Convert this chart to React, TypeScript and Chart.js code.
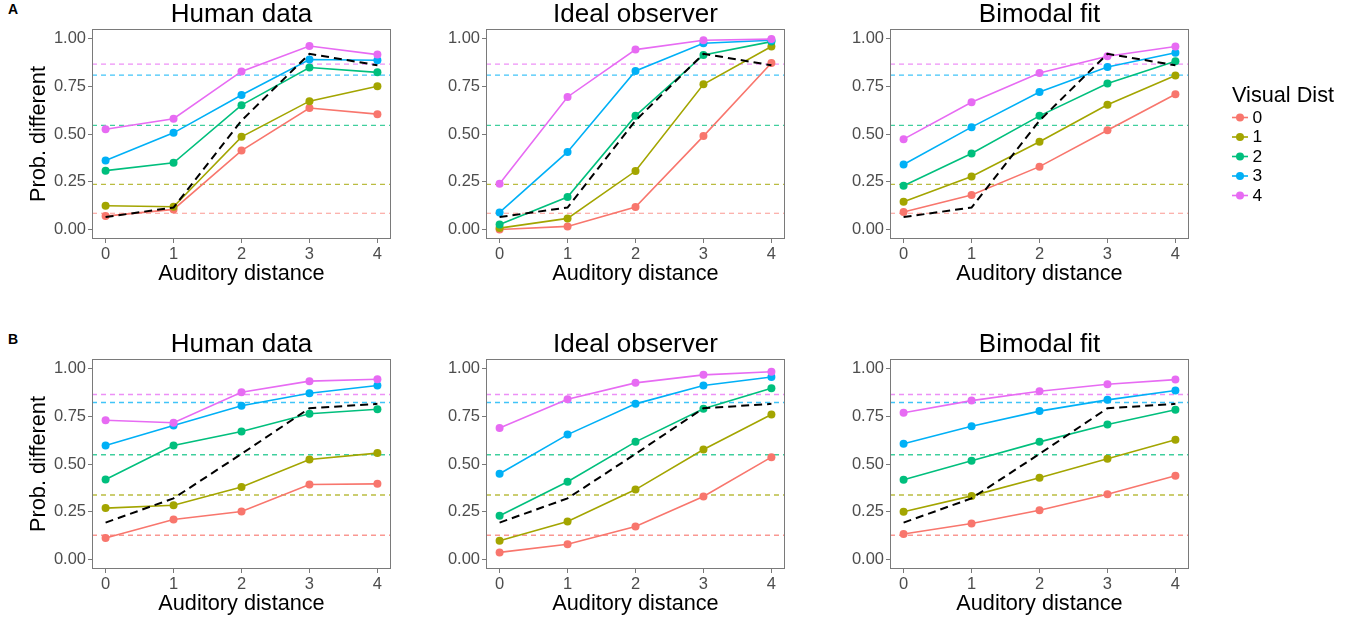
import React, { useEffect, useRef } from 'react';
import { Chart, registerables } from 'chart.js';

Chart.register(...registerables);

// ---------- data ----------
const auditoryDistance = [0, 1, 2, 3, 4];
const visualDist = ['0', '1', '2', '3', '4'];
const yTickValues = [0, 0.25, 0.5, 0.75, 1];
const panelTitles = ['Human data', 'Ideal observer', 'Bimodal fit'];
const rowLabels = ['A', 'B'];
const legendTitle = 'Visual Dist';
const xAxisTitle = 'Auditory distance';
const yAxisTitle = 'Prob. different';

// Row A (rows = visual distance 0..4, columns = auditory distance 0..4)
const humanA = [
  [0.07, 0.105, 0.413, 0.636, 0.604],
  [0.124, 0.119, 0.485, 0.672, 0.75],
  [0.308, 0.349, 0.651, 0.848, 0.823],
  [0.361, 0.506, 0.704, 0.89, 0.886],
  [0.525, 0.58, 0.828, 0.961, 0.916],
];
const idealA = [
  [0.0, 0.016, 0.117, 0.489, 0.872],
  [0.007, 0.058, 0.306, 0.76, 0.958],
  [0.026, 0.17, 0.595, 0.914, 0.984],
  [0.089, 0.406, 0.83, 0.975, 0.991],
  [0.24, 0.694, 0.942, 0.991, 0.997],
];
const bimodalA = [
  [0.091, 0.18, 0.329, 0.52, 0.708],
  [0.145, 0.277, 0.459, 0.653, 0.807],
  [0.229, 0.398, 0.595, 0.765, 0.881],
  [0.34, 0.536, 0.72, 0.851, 0.926],
  [0.473, 0.666, 0.82, 0.907, 0.958],
];
const auditoryOnlyA = [0.065, 0.115, 0.57, 0.92, 0.86];
const visualOnlyA = [0.085, 0.236, 0.545, 0.808, 0.866];

// Row B
const humanB = [
  [0.112, 0.209, 0.251, 0.393, 0.396],
  [0.269, 0.284, 0.38, 0.524, 0.557],
  [0.419, 0.597, 0.67, 0.763, 0.787],
  [0.597, 0.702, 0.805, 0.871, 0.911],
  [0.729, 0.716, 0.876, 0.934, 0.944],
];
const idealB = [
  [0.037, 0.08, 0.173, 0.33, 0.536],
  [0.098, 0.199, 0.366, 0.576, 0.759],
  [0.229, 0.407, 0.616, 0.789, 0.897],
  [0.449, 0.654, 0.815, 0.911, 0.956],
  [0.689, 0.839, 0.925, 0.967, 0.983],
];
const bimodalB = [
  [0.133, 0.188, 0.258, 0.342, 0.438],
  [0.25, 0.333, 0.428, 0.527, 0.627],
  [0.417, 0.517, 0.616, 0.707, 0.784],
  [0.606, 0.698, 0.777, 0.836, 0.885],
  [0.768, 0.832, 0.881, 0.918, 0.942],
];
const auditoryOnlyB = [0.193, 0.32, 0.553, 0.792, 0.815];
const visualOnlyB = [0.127, 0.338, 0.548, 0.822, 0.864];

// ---------- styles ----------
const seriesColors = ['#F8766D', '#A3A500', '#00BF7D', '#00B0F6', '#E76BF3'];
const baselineColors = [
  'rgba(248,118,109,0.75)',
  'rgba(163,165,0,0.75)',
  'rgba(0,191,125,0.75)',
  'rgba(0,176,246,0.75)',
  'rgba(231,107,243,0.75)',
];
const FONT = "'Liberation Sans', Arial, Helvetica, sans-serif";
const FRAME = '#7a7a7a';
const TICK_TEXT = '#4D4D4D';

type PanelProps = {
  series: number[][];
  auditoryOnly: number[];
  visualOnly: number[];
  title: string;
  showYTitle: boolean;
  legend: boolean;
  left: number;
  top: number;
  width: number;
  height: number;
  padL: number;
  padR: number;
  yWidth: number;
  hWidth: number;
};

const framePlugin = {
  id: 'panelFrame',
  afterDatasetsDraw(chart: any) {
    const { ctx, chartArea } = chart;
    ctx.save();
    ctx.strokeStyle = FRAME;
    ctx.lineWidth = 1;
    const l = Math.round(chartArea.left) + 0.5;
    const t = Math.round(chartArea.top) + 0.5;
    const r = Math.round(chartArea.right) - 0.5;
    const b = Math.round(chartArea.bottom) - 0.5;
    ctx.strokeRect(l, t, r - l, b - t);
    ctx.restore();
  },
};

function makeLegendPlugin(offsetX: number, offsetY: number) {
  return {
    id: 'sideLegend',
    afterDraw(chart: any) {
      const ctx = chart.ctx;
      const x0 = 1232 - offsetX;
      const titleY = 96.5 - offsetY;
      ctx.save();
      ctx.fillStyle = '#000';
      ctx.textAlign = 'left';
      ctx.textBaseline = 'middle';
      ctx.font = `21.7px ${FONT}`;
      ctx.fillText(legendTitle, x0, titleY);
      ctx.font = `17.4px ${FONT}`;
      visualDist.forEach((lab, k) => {
        const y = 117.5 - offsetY + k * 19.5;
        ctx.strokeStyle = seriesColors[k];
        ctx.lineWidth = 1.6;
        ctx.beginPath();
        ctx.moveTo(x0, y);
        ctx.lineTo(x0 + 16, y);
        ctx.stroke();
        ctx.fillStyle = seriesColors[k];
        ctx.beginPath();
        ctx.arc(x0 + 8, y, 4, 0, Math.PI * 2);
        ctx.fill();
        ctx.fillStyle = '#000';
        ctx.fillText(lab, x0 + 20.5, y + 0.5);
      });
      ctx.restore();
    },
  };
}

function Panel(p: PanelProps) {
  const ref = useRef<HTMLCanvasElement | null>(null);
  useEffect(() => {
    if (!ref.current) return;
    const datasets: any[] = [];
    datasets.push({
      label: 'auditory only',
      data: auditoryDistance.map((x, i) => ({ x, y: p.auditoryOnly[i] })),
      borderColor: '#000',
      borderWidth: 2,
      borderDash: [8, 5],
      pointRadius: 0,
      fill: false,
    });
    [4, 3, 2, 1, 0].forEach((k) => {
      datasets.push({
        label: visualDist[k],
        data: auditoryDistance.map((x, i) => ({ x, y: p.series[k][i] })),
        borderColor: seriesColors[k],
        backgroundColor: seriesColors[k],
        pointBackgroundColor: seriesColors[k],
        borderWidth: 1.6,
        pointRadius: 4,
        pointBorderWidth: 0,
        fill: false,
      });
    });
    p.visualOnly.forEach((v, k) => {
      datasets.push({
        label: 'visual only ' + visualDist[k],
        data: [
          { x: -0.2, y: v },
          { x: 4.2, y: v },
        ],
        borderColor: baselineColors[k],
        borderWidth: p.hWidth,
        borderDash: [5, 4],
        pointRadius: 0,
        fill: false,
      });
    });

    const plugins: any[] = [framePlugin];
    if (p.legend) plugins.push(makeLegendPlugin(p.left, p.top));

    const gridOpts = {
      display: true,
      drawOnChartArea: false,
      drawTicks: true,
      tickLength: 4,
      color: FRAME,
      lineWidth: 1,
    };

    const chart = new Chart(ref.current, {
      type: 'line',
      data: { datasets },
      plugins,
      options: {
        animation: false,
        responsive: false,
        maintainAspectRatio: false,
        devicePixelRatio: 1,
        layout: { padding: { left: p.padL, right: p.padR, top: 0, bottom: 3 } },
        plugins: {
          legend: { display: false },
          tooltip: { enabled: false },
          title: {
            display: true,
            text: p.title,
            fullSize: false,
            color: '#000',
            font: { family: FONT, size: 26, weight: 'normal', lineHeight: 1 },
            padding: { top: 1.5, bottom: 1.5 },
          },
        },
        scales: {
          x: {
            type: 'linear',
            min: -0.2,
            max: 4.2,
            afterBuildTicks: (s: any) => {
              s.ticks = auditoryDistance.map((v) => ({ value: v }));
            },
            afterFit: (s: any) => {
              s.height = 48;
            },
            ticks: {
              color: TICK_TEXT,
              font: { family: FONT, size: 16.5 },
              padding: 2,
              autoSkip: false,
              maxRotation: 0,
              callback: (v: any) => String(v),
            },
            grid: gridOpts,
            border: { display: false },
            title: {
              display: true,
              text: xAxisTitle,
              color: '#000',
              font: { family: FONT, size: 21.7 },
              padding: 0,
            },
          },
          y: {
            type: 'linear',
            min: -0.05,
            max: 1.05,
            afterBuildTicks: (s: any) => {
              s.ticks = yTickValues.map((v) => ({ value: v }));
            },
            afterFit: (s: any) => {
              s.width = p.yWidth;
            },
            ticks: {
              color: TICK_TEXT,
              font: { family: FONT, size: 16.5 },
              padding: 2,
              autoSkip: false,
              callback: (v: any) => Number(v).toFixed(2),
            },
            grid: gridOpts,
            border: { display: false },
            title: {
              display: p.showYTitle,
              text: yAxisTitle,
              color: '#000',
              font: { family: FONT, size: 21.7 },
              padding: 0,
            },
          },
        },
      } as any,
    });
    return () => chart.destroy();
  }, []);
  return (
    <canvas
      ref={ref}
      width={p.width}
      height={p.height}
      style={{ position: 'absolute', left: p.left, top: p.top, width: p.width, height: p.height }}
    />
  );
}

const rows = [
  { top: 0, data: [humanA, idealA, bimodalA], aud: auditoryOnlyA, vis: visualOnlyA, hWidth: 1.2 },
  { top: 330, data: [humanB, idealB, bimodalB], aud: auditoryOnlyB, vis: visualOnlyB, hWidth: 1.5 },
];
const cols = [
  { left: 0, width: 399, padL: 26, padR: 8, yWidth: 66, yTitle: true, legend: false },
  { left: 446, width: 347, padL: 0, padR: 8, yWidth: 40, yTitle: false, legend: false },
  { left: 850, width: 501, padL: 0, padR: 162, yWidth: 40, yTitle: false, legend: true },
];

export default function App() {
  return (
    <div style={{ position: 'absolute', left: 0, top: 0, width: 1351, height: 621, background: '#fff', overflow: 'hidden' }}>
      {rows.map((r, ri) => (
        <React.Fragment key={ri}>
          <div
            style={{
              position: 'absolute',
              left: 8,
              top: r.top + 1,
              fontFamily: FONT,
              fontWeight: 'bold',
              fontSize: 14,
              color: '#000',
            }}
          >
            {rowLabels[ri]}
          </div>
          {cols.map((c, ci) => (
            <Panel
              key={ci}
              series={r.data[ci]}
              auditoryOnly={r.aud}
              visualOnly={r.vis}
              title={panelTitles[ci]}
              showYTitle={c.yTitle}
              legend={c.legend}
              left={c.left}
              top={r.top}
              width={c.width}
              height={290}
              padL={c.padL}
              padR={c.padR}
              yWidth={c.yWidth}
              hWidth={r.hWidth}
            />
          ))}
        </React.Fragment>
      ))}
    </div>
  );
}
